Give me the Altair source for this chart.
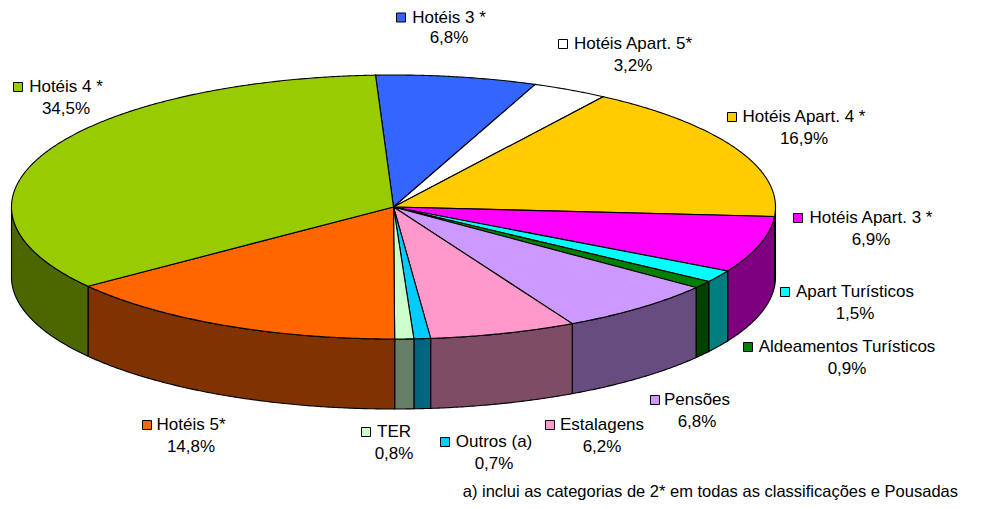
import altair as alt
import numpy as np
import pandas as pd

# ---- data (clockwise from the top) ----
CATEGORIES = ["Hotéis 3 *", "Hotéis Apart. 5*", "Hotéis Apart. 4 *", "Hotéis Apart. 3 *",
              "Apart Turísticos", "Aldeamentos Turísticos", "Pensões", "Estalagens",
              "Outros (a)", "TER", "Hotéis 5*", "Hotéis 4 *"]
VALUES = [6.8, 3.2, 16.9, 6.9, 1.5, 0.9, 6.8, 6.2, 0.7, 0.8, 14.8, 34.5]
COLORS = ["#3366FF", "#FFFFFF", "#FFCC00", "#FF00FF", "#00FFFF", "#008000",
          "#CC99FF", "#FF99CC", "#00CCFF", "#CCFFCC", "#FF6600", "#99CC00"]
FOOTNOTE = "a) inclui as categorias de 2* em todas as classificações e Pousadas"

# ---- layout (label anchors, page pixels) ----
LABEL_X = [449, 633, 804, 871, 855, 847, 697, 602, 494, 394, 191, 66]
LABEL_Y = [17.5, 44, 117, 218, 292, 347, 400, 425, 442, 432, 425, 87]
KEY_X = [401, 563, 732, 798, 785, 748, 655, 550, 445, 366, 147, 18]

CX, CY, RX, RY, DEPTH, START = 393.5, 207.0, 382.0, 132.0, 70.0, -2.7
FONT = "Liberation Sans"
PAD_TOP = 8


def darker(hexcol):
    h = hexcol.lstrip("#")
    r, g, b = (int(h[i:i + 2], 16) // 2 for i in (0, 2, 4))
    return f"#{r:02x}{g:02x}{b:02x}"


def pts(a, b, dy=0.0):
    n = max(2, int(np.ceil(abs(b - a) / 0.4)) + 1)
    t = np.radians(np.linspace(a, b, n))
    return list(zip(CX + RX * np.sin(t), CY - RY * np.cos(t) + dy))


total = sum(VALUES)
bounds = [START]
for v in VALUES:
    bounds.append(bounds[-1] + v / total * 360.0)

side_rows, top_rows = [], []
for i, (cat, col) in enumerate(zip(CATEGORIES, COLORS)):
    a, b = bounds[i], bounds[i + 1]
    # top face wedge
    poly = [(CX, CY)] + pts(a, b) + [(CX, CY)]
    for k, (x, y) in enumerate(poly):
        top_rows.append({"pid": i, "o": k, "x": x, "y": y, "fill": col})
    # visible outer wall (front half)
    sa, sb = max(a, 90.0), min(b, 270.0)
    if sb > sa:
        upper = pts(sa, sb)
        lower = pts(sb, sa, DEPTH)
        poly = upper + lower + [upper[0]]
        for k, (x, y) in enumerate(poly):
            side_rows.append({"pid": i, "o": k, "x": x, "y": y, "fill": darker(col)})

sides = pd.DataFrame(side_rows)
tops = pd.DataFrame(top_rows)

labels = pd.DataFrame({
    "name": CATEGORIES,
    "pct": [f"{v:.1f}".replace(".", ",") + "%" for v in VALUES],
    "x": LABEL_X,
    "y": LABEL_Y,
    "y2": [round(y) + 22 if i else 38 for i, y in enumerate(LABEL_Y)],
    "kx": KEY_X,
    "fill": COLORS,
})
foot = pd.DataFrame({"x": [958], "y": [492], "t": [FOOTNOTE]})

XS = alt.Scale(domain=[8, 987], nice=False, zero=False)
YS = alt.Scale(domain=[8 + PAD_TOP, 501], nice=False, zero=False, reverse=True)
X = alt.X("x:Q", scale=XS, axis=None)
Y = alt.Y("y:Q", scale=YS, axis=None)

side_layer = alt.Chart(sides).mark_line(filled=True, stroke="black", strokeWidth=1.1).encode(
    x=X, y=Y, detail="pid:N", order="o:Q", color=alt.Color("fill:N", scale=None))
top_layer = alt.Chart(tops).mark_line(filled=True, stroke="black", strokeWidth=1.1).encode(
    x=X, y=Y, detail="pid:N", order="o:Q", color=alt.Color("fill:N", scale=None))
keys = alt.Chart(labels).mark_square(size=81, stroke="black", strokeWidth=1, opacity=1).encode(
    x=alt.X("kx:Q", scale=XS, axis=None), y=Y, fill=alt.Fill("fill:N", scale=None))
names = alt.Chart(labels).mark_text(font=FONT, fontSize=17, color="black", baseline="middle",
                                    align="center").encode(x=X, y=Y, text="name:N")
pcts = alt.Chart(labels).mark_text(font=FONT, fontSize=17, color="black", baseline="middle",
                                   align="center").encode(
    x=X, y=alt.Y("y2:Q", scale=YS, axis=None), text="pct:N")
footnote = alt.Chart(foot).mark_text(font=FONT, fontSize=16.5, color="black", baseline="middle",
                                     align="right").encode(x=X, y=Y, text="t:N")

chart = alt.layer(side_layer, top_layer, keys, names, pcts, footnote).properties(
    width=979, height=493 - PAD_TOP,
    padding={"left": 0, "top": PAD_TOP, "right": 0, "bottom": 0},
    autosize=alt.AutoSizeParams(type="none"),
).configure_view(strokeWidth=0)

chart.save("out.html", embed_options={"renderer": "svg", "actions": False})
